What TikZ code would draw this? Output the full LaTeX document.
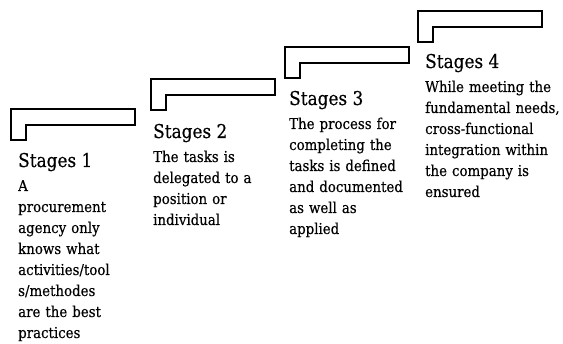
\documentclass[tikz,border=0pt]{standalone}
\usepackage{fontspec}
\setmainfont{DejaVu Serif}[FakeStretch=0.89, FakeBold=0.4]

\tikzset{
  stair/.style = {draw, line width=1.7pt, line join=miter},
  stagetitle/.style = {anchor=base west, inner sep=0pt, font=\fontsize{19}{22}\selectfont},
  stagetext/.style = {anchor=base west, inner sep=0pt, text width=140pt, align=left,
                      font=\fontsize{15}{21}\selectfont}
}

\begin{document}
\begin{tikzpicture}[x=1pt, y=-1pt]
\useasboundingbox (0,0) rectangle (563,344);

% one step of the stair per stage: \n / step corner / text origin / description
\foreach \n/\sx/\sy/\tx/\ty/\desc in {
    1/11/109/18/167/{A\\procurement\\agency only\\knows what\\activities/tool\\s/methodes\\are the best\\practices},
    2/151/79/153/138/{The tasks is\\delegated to a\\position or\\individual},
    3/285/47/289/105/{The process for\\completing the\\tasks is defined\\and documented\\as well as\\applied},
    4/418/11/425/68/{While meeting the\\fundamental needs,\\cross-functional\\integration within\\the company is\\ensured}} {
  \draw[stair] (\sx,\sy) -- ++(124,0) -- ++(0,16) -- ++(-109,0) -- ++(0,15) -- ++(-15,0) -- cycle;
  \node[stagetitle] (stage\n) at (\tx,\ty) {Stages \n};
  \node[stagetext] (desc\n) at (\tx,\ty+24) {\desc};
}

\end{tikzpicture}
\end{document}
